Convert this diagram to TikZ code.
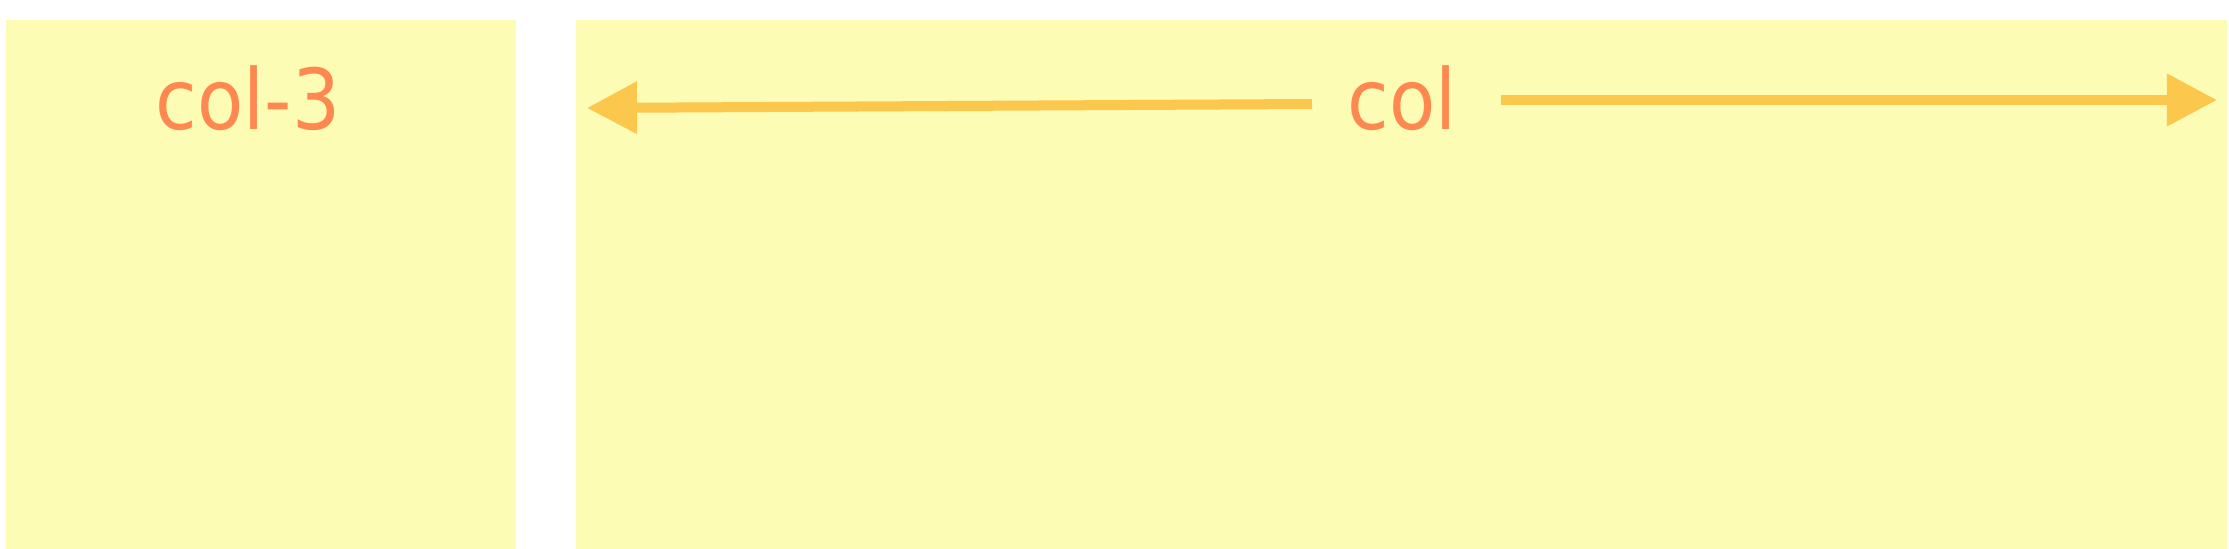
\documentclass[tikz,border=0pt]{standalone}
\usepackage{fontspec}
\setmainfont{DejaVu Sans Condensed}
\usetikzlibrary{arrows.meta, positioning}

\definecolor{gridyellow}{HTML}{FDFCB4}
\definecolor{labelorange}{HTML}{FF8850}
\definecolor{arrowgold}{HTML}{FCC74D}

\begin{document}
\begin{tikzpicture}[
    x=0.01cm, y=-0.01cm,
    >={Triangle[length=0.5cm, width=0.5cm]},
    % Define styles for the column boxes, labels and arrows
    colbox/.style={rectangle, fill=gridyellow, draw=none, anchor=north west, minimum height=5.3cm, inner sep=0pt},
    collabel/.style={text=labelorange, font=\fontsize{23.9}{28}\selectfont, anchor=base, inner sep=0pt},
    spanarrow/.style={->, draw=arrowgold, line width=0.1cm},
]
\useasboundingbox (0,0) rectangle (2229,549);

% -------------------------
% Column boxes
% -------------------------
\node (colthreebox) [colbox, minimum width=5.1cm] at (5,19) {};
\node (colrestbox) [colbox, minimum width=16.5cm] at (575,19) {};

% -------------------------
% Labels
% -------------------------
\node (colthree) [collabel] at (248,130) {col-3};
\node (colrest) [collabel] at (1402,130) {col};

% -------------------------
% Span arrows
% -------------------------
\coordinate (lefttail) at (1312,104);
\coordinate (lefttip) at (587,108);
\coordinate (righttail) at (1501,100);
\coordinate (righttip) at (2217,100);

\draw[spanarrow] (lefttail) -- (lefttip);
\draw[spanarrow] (righttail) -- (righttip);

\end{tikzpicture}
\end{document}
